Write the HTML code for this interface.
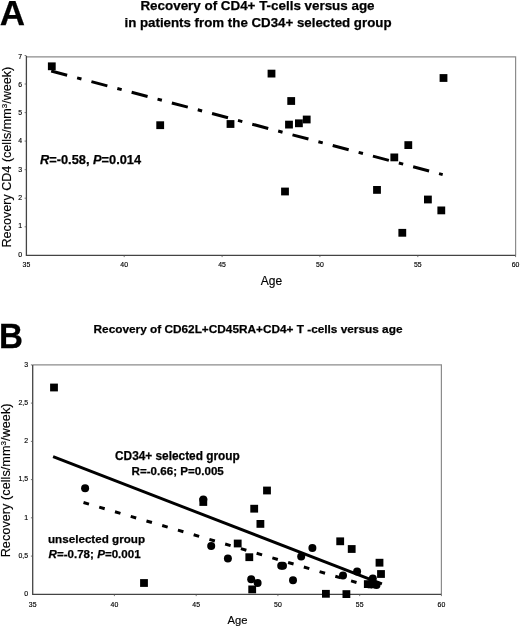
<!DOCTYPE html>
<html><head><meta charset="utf-8"><style>
html,body{margin:0;padding:0;background:#fff;}
body{width:520px;height:627px;overflow:hidden;}
svg{display:block;will-change:transform;filter:blur(0.3px);}
text{font-family:"Liberation Sans",sans-serif;fill:#000;stroke:#000;stroke-width:0.15px;}
.b{font-weight:bold;stroke:#000;stroke-width:0.25px;}
.t{font-size:6.9px;fill:#111;stroke:#111;stroke-width:0.2px;}
</style></head><body>
<svg width="520" height="627" viewBox="0 0 520 627">
<rect width="520" height="627" fill="#fff"/>
<!-- Panel A -->
<text x="-0.2" y="24.8" class="b" font-size="35">A</text>
<text x="257.5" y="10.4" class="b" font-size="13.4" text-anchor="middle">Recovery of CD4+ T-cells versus age</text>
<text x="258" y="27.4" class="b" font-size="13.3" text-anchor="middle">in patients from the CD34+ selected group</text>
<path d="M26.4 56.8H515.6V255.3" fill="none" stroke="#8c8c8c" stroke-width="1.2"/>
<path d="M26.4 56.0V255.3H515.6" fill="none" stroke="#444" stroke-width="1.3"/>
<path d="M24.599999999999998 226.8h1.8M24.599999999999998 198.2h1.8M24.599999999999998 169.7h1.8M24.599999999999998 141.1h1.8M24.599999999999998 112.6h1.8M24.599999999999998 84.0h1.8M24.599999999999998 55.5h1.8M124.2 255.3v1.8M222.1 255.3v1.8M319.9 255.3v1.8M417.8 255.3v1.8M515.6 255.3v1.8" stroke="#555" stroke-width="0.8"/>
<g class="t"><text x="22" y="256.7" text-anchor="end">0</text><text x="22" y="228.4" text-anchor="end">1</text><text x="22" y="200.1" text-anchor="end">2</text><text x="22" y="171.7" text-anchor="end">3</text><text x="22" y="143.4" text-anchor="end">4</text><text x="22" y="115.1" text-anchor="end">5</text><text x="22" y="86.8" text-anchor="end">6</text><text x="22" y="58.5" text-anchor="end">7</text><text x="26.4" y="267" text-anchor="middle">35</text><text x="124.2" y="267" text-anchor="middle">40</text><text x="222.1" y="267" text-anchor="middle">45</text><text x="319.9" y="267" text-anchor="middle">50</text><text x="417.8" y="267" text-anchor="middle">55</text><text x="515.6" y="267" text-anchor="middle">60</text></g>
<text transform="translate(11.0 157.1) rotate(-90)" font-size="12.6" text-anchor="middle">Recovery CD4 (cells/mm<tspan dy="-4" font-size="8">3</tspan><tspan dy="4">/week)</tspan></text>
<text x="271.5" y="284.9" font-size="12" text-anchor="middle">Age</text>
<line x1="51.2" y1="71" x2="442.7" y2="174.6" stroke="#000" stroke-width="3" stroke-dasharray="16.5 10.3 4.5 10.3"/>
<g fill="#000"><rect x="47.9" y="62.4" width="7.8" height="7.8"/><rect x="156.3" y="121.3" width="7.8" height="7.8"/><rect x="226.6" y="120.1" width="7.8" height="7.8"/><rect x="267.6" y="69.7" width="7.8" height="7.8"/><rect x="287.3" y="97.1" width="7.8" height="7.8"/><rect x="285.1" y="120.7" width="7.8" height="7.8"/><rect x="295.0" y="119.4" width="7.8" height="7.8"/><rect x="302.8" y="115.6" width="7.8" height="7.8"/><rect x="281.1" y="187.6" width="7.8" height="7.8"/><rect x="404.4" y="141.2" width="7.8" height="7.8"/><rect x="390.4" y="153.5" width="7.8" height="7.8"/><rect x="373.1" y="186.0" width="7.8" height="7.8"/><rect x="424.0" y="195.6" width="7.8" height="7.8"/><rect x="437.4" y="206.5" width="7.8" height="7.8"/><rect x="439.6" y="74.1" width="7.8" height="7.8"/><rect x="398.4" y="228.9" width="7.8" height="7.8"/></g>
<text x="40" y="163.8" class="b" font-size="12.8"><tspan font-style="italic">R</tspan>=-0.58, <tspan font-style="italic">P</tspan>=0.014</text>
<!-- Panel B -->
<text transform="translate(-0.9 347.9) scale(0.96 1)" class="b" font-size="34.6">B</text>
<text x="248" y="333.3" class="b" font-size="11.82" text-anchor="middle">Recovery of CD62L+CD45RA+CD4+ T -cells versus age</text>
<path d="M32.7 364.9H441.4V594.3" fill="none" stroke="#8c8c8c" stroke-width="1.2"/>
<path d="M32.7 364.9V594.3H441.4" fill="none" stroke="#444" stroke-width="1.3"/>
<path d="M30.900000000000002 556.1h1.8M30.900000000000002 517.8h1.8M30.900000000000002 479.6h1.8M30.900000000000002 441.4h1.8M30.900000000000002 403.1h1.8M30.900000000000002 364.9h1.8M114.4 594.3v1.8M196.2 594.3v1.8M277.9 594.3v1.8M359.7 594.3v1.8M441.4 594.3v1.8" stroke="#555" stroke-width="0.8"/>
<g class="t"><text x="28" y="596.0" text-anchor="end">0</text><text x="28" y="557.8" text-anchor="end">0,5</text><text x="28" y="519.5" text-anchor="end">1</text><text x="28" y="481.3" text-anchor="end">1,5</text><text x="28" y="443.1" text-anchor="end">2</text><text x="28" y="404.8" text-anchor="end">2,5</text><text x="28" y="366.6" text-anchor="end">3</text><text x="32.7" y="606.5" text-anchor="middle">35</text><text x="114.4" y="606.5" text-anchor="middle">40</text><text x="196.2" y="606.5" text-anchor="middle">45</text><text x="277.9" y="606.5" text-anchor="middle">50</text><text x="359.7" y="606.5" text-anchor="middle">55</text><text x="441.4" y="606.5" text-anchor="middle">60</text></g>
<text transform="translate(10.4 480.4) rotate(-90)" font-size="12.75" text-anchor="middle">Recovery (cells/mm<tspan dy="-4" font-size="8">3</tspan><tspan dy="4">/week)</tspan></text>
<text x="237.5" y="624.1" font-size="11.2" text-anchor="middle">Age</text>
<line x1="53.1" y1="456.7" x2="381.9" y2="583.8" stroke="#000" stroke-width="2.9"/>
<line x1="83.5" y1="502.5" x2="376" y2="588.2" stroke="#000" stroke-width="3" stroke-dasharray="5.7 10.7"/>
<g fill="#000"><rect x="50.1" y="383.6" width="7.8" height="7.8"/><rect x="140.1" y="579.1" width="7.8" height="7.8"/><rect x="199.4" y="498.1" width="7.8" height="7.8"/><rect x="263.1" y="486.6" width="7.8" height="7.8"/><rect x="250.3" y="504.8" width="7.8" height="7.8"/><rect x="256.5" y="520.0" width="7.8" height="7.8"/><rect x="233.8" y="539.6" width="7.8" height="7.8"/><rect x="245.4" y="553.3" width="7.8" height="7.8"/><rect x="248.3" y="585.5" width="7.8" height="7.8"/><rect x="336.3" y="537.4" width="7.8" height="7.8"/><rect x="347.8" y="545.1" width="7.8" height="7.8"/><rect x="375.6" y="558.8" width="7.8" height="7.8"/><rect x="377.1" y="570.1" width="7.8" height="7.8"/><rect x="342.5" y="590.2" width="7.8" height="7.8"/><rect x="322.0" y="589.9" width="7.8" height="7.8"/><rect x="363.9" y="580.2" width="7.8" height="7.8"/><rect x="367.7" y="580.5" width="7.8" height="7.8"/><circle cx="85.1" cy="488.3" r="4.0"/><circle cx="203.3" cy="499.6" r="4.0"/><circle cx="211.2" cy="546.0" r="4.0"/><circle cx="227.9" cy="558.6" r="4.0"/><circle cx="281.2" cy="565.7" r="4.0"/><circle cx="283.0" cy="565.7" r="4.0"/><circle cx="293.0" cy="580.2" r="4.0"/><circle cx="301.2" cy="556.6" r="4.0"/><circle cx="312.4" cy="548.0" r="4.0"/><circle cx="251.2" cy="579.3" r="4.0"/><circle cx="257.6" cy="583.0" r="4.0"/><circle cx="343.0" cy="575.5" r="4.0"/><circle cx="357.1" cy="571.4" r="4.0"/><circle cx="372.8" cy="578.6" r="4.0"/><circle cx="376.5" cy="584.9" r="4.0"/></g>
<text x="177.4" y="460.2" class="b" font-size="11.85" text-anchor="middle">CD34+ selected group</text>
<text x="177.7" y="475.1" class="b" font-size="11.6" text-anchor="middle">R=-0.66; P=0.005</text>
<text x="48" y="542.8" class="b" font-size="11.65">unselected group</text>
<text x="48.5" y="557.5" class="b" font-size="11.6"><tspan font-style="italic">R</tspan>=-0.78; <tspan font-style="italic">P</tspan>=0.001</text>
</svg>
</body></html>
